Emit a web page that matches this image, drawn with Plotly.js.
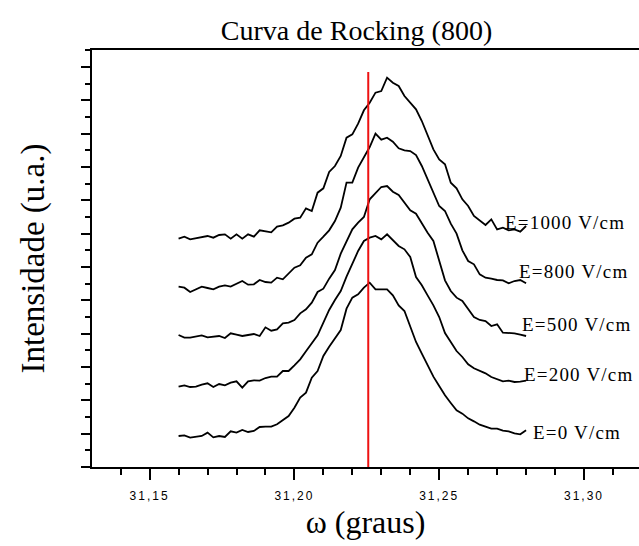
<!DOCTYPE html>
<html>
<head>
<meta charset="utf-8">
<script src="https://cdn.plot.ly/plotly-3.0.1.min.js"></script>
<style>html,body{margin:0;padding:0;background:#fff;}#chart{width:639px;height:546px;}</style>
</head>
<body>
<div id="chart"></div>
<script>
// omega (graus)
const omega = [31.160,31.162,31.164,31.166,31.168,31.170,31.172,31.174,31.176,31.178,
31.180,31.182,31.184,31.186,31.188,31.190,31.192,31.194,31.196,31.198,
31.200,31.202,31.204,31.206,31.208,31.210,31.212,31.214,31.216,31.218,
31.220,31.222,31.224,31.226,31.228,31.230,31.232,31.234,31.236,31.238,
31.240,31.242,31.244,31.246,31.248,31.250,31.252,31.254,31.256,31.258,
31.260,31.262,31.264,31.266,31.268,31.270,31.272,31.274,31.276,31.278,31.280];

// Intensidade (u.a.), curves already offset as in the figure
const e1000 = [685,691,683,686,690,693,688,696,698,685,698,685,698,691,710,708,704,721,725,733,
745,748,776,768,823,836,885,903,933,988,998,1030,1070,1093,1123,1128,1168,1153,1143,1113,
1093,1073,1038,998,953,923,908,853,836,803,783,753,740,726,743,713,718,710,713,706,723];
const e800 = [541,538,525,533,541,537,533,541,545,541,549,558,547,548,561,555,553,568,563,581,
598,605,628,638,673,691,710,738,778,853,853,898,930,960,1000,982,988,976,956,950,
948,936,903,863,826,783,768,730,700,650,618,608,578,568,565,561,560,551,558,561,551];
const e500 = [396,388,388,391,395,389,391,393,387,401,397,393,396,399,393,419,409,413,431,433,
441,461,473,493,525,535,565,591,640,676,713,733,750,803,820,840,843,826,816,793,
770,760,730,703,678,620,560,528,508,498,473,450,441,438,423,428,403,403,401,397,393];
const e200 = [241,245,240,241,247,251,240,249,245,253,257,238,257,260,259,267,271,271,288,288,
305,323,347,371,395,433,471,501,528,571,608,648,678,688,693,683,698,680,663,653,
630,570,545,515,485,450,402,375,348,330,308,296,289,281,270,264,257,259,255,256,259];
const e0 = [93,95,88,91,93,103,89,93,90,107,103,111,105,108,120,121,121,128,140,153,
178,208,223,268,288,333,361,388,411,475,508,518,538,553,533,533,533,515,485,468,
420,375,340,305,271,243,215,192,170,160,146,137,127,121,115,115,109,107,101,98,110];

const seriesNames = ["E=1000 V/cm","E=800 V/cm","E=500 V/cm","E=200 V/cm","E=0 V/cm"];
const seriesData = [e1000, e800, e500, e200, e0];
// label anchor (data coords)
const labelX = [31.2720, 31.2767, 31.2778, 31.2787, 31.2818];
const labelY = [735, 588, 429, 279, 105];

const refOmega = [31.2255, 31.2255];
const refY = [0, 1185];

const xTickVals = [31.15, 31.20, 31.25, 31.30];
const xTickText = ["31,15", "31,20", "31,25", "31,30"];

const traces = seriesData.map((d, i) => ({
  x: omega, y: d, type: 'scatter', mode: 'lines', name: seriesNames[i],
  line: {color: '#000', width: 1.8}, showlegend: false, hoverinfo: 'skip'
}));
traces.push({x: refOmega, y: refY, type: 'scatter', mode: 'lines',
  line: {color: '#ee1111', width: 2}, showlegend: false, hoverinfo: 'skip'});

const annotations = seriesNames.map((t, i) => ({
  x: labelX[i], y: labelY[i], xref: 'x', yref: 'y', xanchor: 'left', yanchor: 'middle',
  text: '<span style="letter-spacing:1.2px">' + t + '</span>', showarrow: false,
  font: {family: 'Liberation Serif', size: 19, color: '#000'}
}));

const layout = {
  width: 639, height: 546,
  margin: {l: 92, r: 0, t: 50, b: 79},
  paper_bgcolor: '#fff', plot_bgcolor: '#fff',
  separators: ',.',
  title: {text: 'Curva de Rocking (800)', font: {family: 'Liberation Serif', size: 28, color: '#000'},
    x: 0.558, xanchor: 'center', y: 0.945, yanchor: 'middle'},
  xaxis: {
    range: [31.1301, 31.3190], showgrid: false, zeroline: false,
    showline: true, linecolor: '#000', linewidth: 2, mirror: true,
    ticks: 'outside', ticklen: 11, tickwidth: 2, tickcolor: '#000',
    tickmode: 'array', tickvals: xTickVals,
    ticktext: xTickText.map(s => '<span style="letter-spacing:2px">' + s + '</span>'),
    tickfont: {family: 'Liberation Sans', size: 12, color: '#000'},
    ticklabelstandoff: 6,
    minor: {tickmode: 'linear', tick0: 31.15, dtick: 0.01, ticks: 'outside', ticklen: 6, tickwidth: 2, tickcolor: '#000'},
    title: {text: 'ω (graus)', font: {family: 'Liberation Serif', size: 32, color: '#000'}, standoff: 8}
  },
  yaxis: {
    range: [0, 1251], showgrid: false, zeroline: false,
    showline: true, linecolor: '#000', linewidth: 2,
    ticks: 'outside', ticklen: 9, tickwidth: 2, tickcolor: '#000',
    tickmode: 'linear', tick0: 0, dtick: 100, showticklabels: false,
    minor: {tickmode: 'linear', tick0: 0, dtick: 50, ticks: 'outside', ticklen: 5, tickwidth: 2, tickcolor: '#000'},
    title: {text: 'Intensidade (u.a.)', font: {family: 'Liberation Serif', size: 33, color: '#000'}, standoff: 26}
  },
  annotations: annotations
};

Plotly.newPlot('chart', traces, layout, {displayModeBar: false, staticPlot: true});
</script>
</body>
</html>
